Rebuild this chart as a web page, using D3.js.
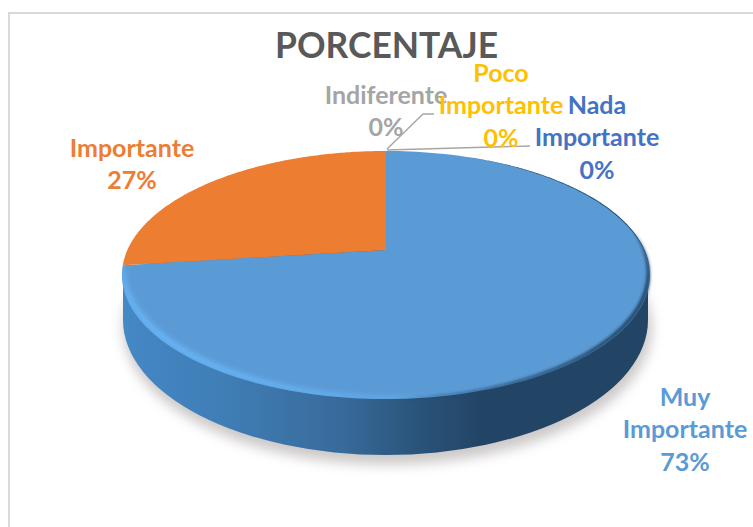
<!DOCTYPE html>
<html><head><meta charset="utf-8">
<script src="https://cdn.jsdelivr.net/npm/d3@7"></script>
<style>html,body{margin:0;padding:0;background:#fff;overflow:hidden}svg{display:block}text{font-family:Lato,"Open Sans",sans-serif;font-weight:700}</style>
</head><body><svg id="c" width="753" height="527"></svg>
<script>
const categories = ["Muy Importante","Importante","Indiferente","Poco Importante","Nada Importante"];
const values = [73,27,0,0,0];
const sliceColors = ["#5b9bd5","#ed7d31","#a5a5a5","#ffc000","#4472c4"];
const titleText = "PORCENTAJE";
const labelLines = [["Muy","Importante","73%"],["Importante","27%"],["Indiferente","0%"],["Poco","Importante","0%"],["Nada","Importante","0%"]];

const svg = d3.select("#c");
const defs = svg.append("defs");
const W = 753, H = 527;

// frame
svg.append("path").attr("d",`M9,${H}V13H${W}`).attr("fill","none").attr("stroke","#d9d9d9").attr("stroke-width",2);

// perspective projection of the pie disc
const cx = 386, apexY = 250, R = 258.6, k = 119, p = -0.2016;
const project = (a,r=1) => { const u = Math.sin(a), v = -Math.cos(a), w = 1 + p*v; return [cx + r*R*u/w, apexY + r*k*v/w]; };
const pieGen = d3.pie().sort(null).value(d=>d).startAngle(0).endAngle(2*Math.PI);
const arcs = pieGen(values);
const lineGen = d3.line();
const rim = (a0,a1,n=160) => d3.range(n+1).map(i => project(a0+(a1-a0)*i/n));
// crescent hugging the rim, tapering to nothing at both ends
const crescent = (a0,a1,maxW,n=120) => {
  const outer = rim(a0,a1,n);
  const inner = d3.range(n+1).map(i => project(a0+(a1-a0)*i/n, 1-maxW*Math.pow(Math.sin(Math.PI*i/n),0.7)));
  return lineGen(outer.concat(inner.reverse()))+"Z";
};

// defs
const blur = (id,s) => defs.append("filter").attr("id",id).attr("x","-20%").attr("y","-20%").attr("width","140%").attr("height","140%").append("feGaussianBlur").attr("stdDeviation",s);
blur("b6",6); blur("b3",2.5); blur("b2",1.6); blur("b1",0.7);
const grad = (id,stops) => { const g = defs.append("linearGradient").attr("id",id).attr("x1",0).attr("x2",1).attr("y1",0).attr("y2",0);
  stops.forEach(s=>g.append("stop").attr("offset",s[0]).attr("stop-color",s[1])); };
grad("side",[[0,"#4488c6"],[0.2,"#3f7db5"],[0.42,"#386a9a"],[0.55,"#2b557c"],[0.68,"#224566"],[1,"#224566"]]);

const topPts = rim(0,2*Math.PI);
const botCx = 385.5, botRx = 262.5, botCy = 320, botRy = 135;
defs.append("clipPath").attr("id","topClip").append("path").attr("d",lineGen(topPts)+"Z");

// shadow
svg.append("ellipse").attr("cx",botCx+2).attr("cy",botCy+8).attr("rx",botRx+2).attr("ry",botRy+2)
  .attr("fill","#bdb8b8").attr("opacity",0.75).attr("filter","url(#b6)");

// wall
svg.append("ellipse").attr("cx",botCx).attr("cy",botCy).attr("rx",botRx).attr("ry",botRy).attr("fill","url(#side)");
svg.append("rect").attr("x",botCx-botRx).attr("y",285).attr("width",2*botRx).attr("height",35).attr("fill","url(#side)");

// top face with slices
const g = svg.append("g");
g.selectAll("path.slice").data(arcs.filter(d=>d.value>0)).join("path").attr("class","slice")
  .attr("d",d=>lineGen([[cx,apexY],...rim(d.startAngle,d.endAngle)])+"Z")
  .attr("fill",d=>sliceColors[d.index]);

// bevel highlights and shaded rim
const bevel = svg.append("g").attr("clip-path","url(#topClip)");
bevel.append("path").attr("d",crescent(Math.PI*0.95,Math.PI*1.47,0.035)).attr("fill","#68b4f6").attr("filter","url(#b3)");
svg.append("path").attr("d",crescent(Math.PI*0.45,Math.PI*0.98,0.018)).attr("fill","#224566").attr("filter","url(#b2)");
svg.append("path").attr("d",crescent(Math.PI*0.12,Math.PI*0.55,0.006)).attr("fill","#2b5274").attr("filter","url(#b1)");

// leader lines
const leaders = [[2,[[387,149],[423,114],[434,114]]],[3,[[387,150],[530,146]]]];
svg.selectAll("path.leader").data(leaders).join("path").attr("class","leader")
  .attr("d",d=>lineGen(d[1])).attr("fill","none").attr("stroke","#a6a6a6").attr("stroke-width",1.4);

// title
svg.append("text").attr("x",386.5).attr("y",58).attr("text-anchor","middle").attr("font-size",37)
  .attr("textLength",223).attr("lengthAdjust","spacingAndGlyphs").attr("fill","#595959").text(titleText);

// labels
const labelPos = [[685,406],[132,157],[386,104],[501,82],[597,114]];
labelLines.forEach((lines,i)=>{
  const t = svg.append("text").attr("text-anchor","middle").attr("font-size",25).attr("fill",sliceColors[i]);
  lines.forEach((s,j)=>t.append("tspan").attr("x",labelPos[i][0]).attr("y",labelPos[i][1]+j*32.4).text(s));
});
</script></body></html>
